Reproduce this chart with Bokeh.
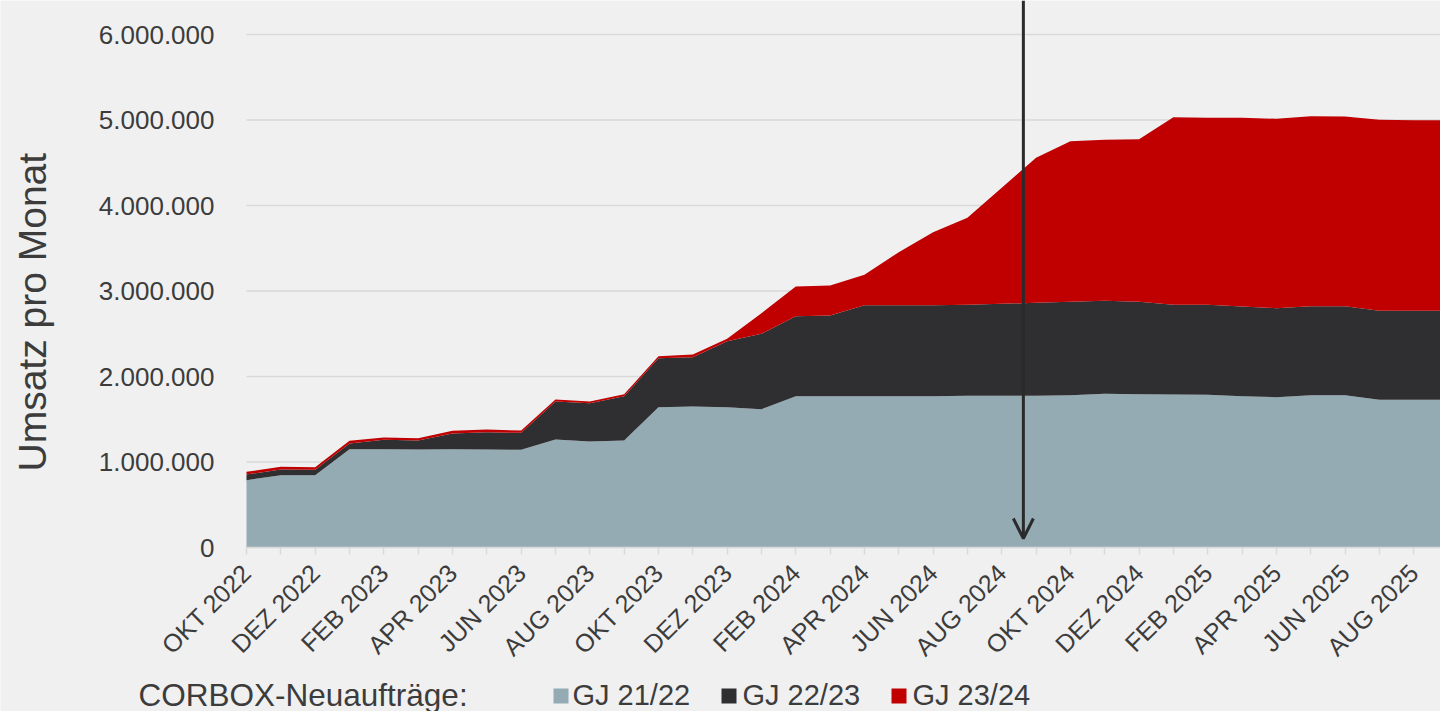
import math
from bokeh.plotting import figure
from bokeh.models import (ColumnDataSource, FixedTicker, Range1d, Arrow, OpenHead,
                          Label, BoxAnnotation)
from bokeh.embed import file_html
from bokeh.resources import INLINE

# ---------------- data ----------------
months = ["OKT 2022", "NOV 2022", "DEZ 2022", "JAN 2023", "FEB 2023", "MÄR 2023",
          "APR 2023", "MAI 2023", "JUN 2023", "JUL 2023", "AUG 2023", "SEP 2023",
          "OKT 2023", "NOV 2023", "DEZ 2023", "JAN 2024", "FEB 2024", "MÄR 2024",
          "APR 2024", "MAI 2024", "JUN 2024", "JUL 2024", "AUG 2024", "SEP 2024",
          "OKT 2024", "NOV 2024", "DEZ 2024", "JAN 2025", "FEB 2025", "MÄR 2025",
          "APR 2025", "MAI 2025", "JUN 2025", "JUL 2025", "AUG 2025", "SEP 2025"]

gj_21_22 = [787000, 846000, 846000, 1150000, 1150000, 1146000, 1150000, 1145000, 1142000,
            1263000, 1240000, 1251000, 1641000, 1649000, 1641000, 1618000, 1770000, 1770000,
            1770000, 1770000, 1770000, 1774000, 1774000, 1774000, 1782000, 1797000, 1793000,
            1790000, 1786000, 1770000, 1758000, 1782000, 1782000, 1727000, 1727000, 1727000]

gj_22_23 = [67000, 66000, 63000, 66000, 110000, 105000, 183000, 202000, 199000,
            445000, 448000, 519000, 573000, 577000, 772000, 881000, 935000, 943000,
            1064000, 1064000, 1064000, 1064000, 1076000, 1088000, 1091000, 1088000, 1080000,
            1048000, 1052000, 1049000, 1041000, 1040000, 1040000, 1041000, 1041000, 1041000]

gj_23_24 = [31000, 32000, 31000, 32000, 27000, 28000, 32000, 32000, 27000,
            23000, 20000, 23000, 24000, 31000, 28000, 242000, 348000, 351000,
            355000, 620000, 854000, 1018000, 1357000, 1696000, 1879000, 1883000, 1903000,
            2195000, 2188000, 2207000, 2215000, 2223000, 2219000, 2234000, 2230000, 2227000]

series_names = ["GJ 21/22", "GJ 22/23", "GJ 23/24"]
legend_title = "CORBOX-Neuaufträge:"
y_title = "Umsatz pro Monat"

y_ticks = [0, 1000000, 2000000, 3000000, 4000000, 5000000, 6000000]
y_tick_labels = ["0", "1.000.000", "2.000.000", "3.000.000", "4.000.000", "5.000.000", "6.000.000"]

# marker arrow (between AUG and SEP 2024)
arrow_x = 22.63
arrow_y_end = 105000

# ---------------- style / layout ----------------
BG = "#f0f0f1"
COLORS = ["#94abb4", "#2f2f31", "#c00000"]
TXT = "#3c3c3c"
GRID = "#d9d9d9"
FONT = "Liberation Sans"
W, H = 1440, 711
# plot area: month 0 at 246px, 34.33 px per month; value 0 at 547px, 85.5 px per million
X0, X1 = -7.166, 34.781
Y0, Y1 = -1918100, 6397700

x = list(range(len(months)))
src = ColumnDataSource(dict(x=x, a=gj_21_22, b=gj_22_23, c=gj_23_24))

p = figure(width=W, height=H, x_range=Range1d(X0, X1), y_range=Range1d(Y0, Y1),
           output_backend="svg", toolbar_location=None, min_border=0,
           background_fill_color=BG, border_fill_color=BG, outline_line_color=None)

# horizontal grid lines (only over the plot area)
p.segment(x0=[0] * len(y_ticks), x1=[X1] * len(y_ticks), y0=y_ticks, y1=y_ticks,
          line_color=GRID, line_width=1.5, level="underlay")
p.xgrid.visible = False
p.ygrid.visible = False

rs = p.varea_stack(["a", "b", "c"], x="x", color=COLORS, source=src)

# x axis, fixed at value 0
p.xaxis.fixed_location = 0
p.xaxis.bounds = (0, len(months) - 1)
p.xaxis.ticker = FixedTicker(ticks=x)
p.xaxis.major_label_overrides = {i: (m if i % 2 == 0 else "") for i, m in enumerate(months)}
p.xaxis.major_label_orientation = math.pi / 4
p.xaxis.axis_line_color = GRID
p.xaxis.axis_line_width = 1.5
p.xaxis.major_tick_line_color = GRID
p.xaxis.major_tick_line_width = 1.5
p.xaxis.major_tick_out = 7
p.xaxis.major_tick_in = 0
p.xaxis.minor_tick_line_color = None
p.xaxis.major_label_standoff = 14
p.xaxis.major_label_text_font = FONT
p.xaxis.major_label_text_font_size = "25px"
p.xaxis.major_label_text_color = TXT

# y axis, fixed at the first month
p.yaxis.fixed_location = 0
p.yaxis.bounds = (0, 6000000)
p.yaxis.ticker = FixedTicker(ticks=y_ticks)
p.yaxis.major_label_overrides = {t: l for t, l in zip(y_ticks, y_tick_labels)}
p.yaxis.axis_line_color = None
p.yaxis.major_tick_line_color = None
p.yaxis.major_tick_out = 0
p.yaxis.major_tick_in = 0
p.yaxis.minor_tick_line_color = None
p.yaxis.major_label_standoff = 32
p.yaxis.major_label_text_font = FONT
p.yaxis.major_label_text_font_size = "26px"
p.yaxis.major_label_text_color = TXT

# y title (screen px from the bottom-left corner)
p.add_layout(Label(x=32, y=240, x_units="screen", y_units="screen", angle=math.pi / 2,
                   text=y_title, text_font=FONT, text_font_size="39px", text_color=TXT,
                   text_align="left", text_baseline="alphabetic"))

p.add_layout(Arrow(x_start=arrow_x, y_start=Y1, x_end=arrow_x, y_end=arrow_y_end,
                   line_color="#2a2a2a", line_width=3,
                   end=OpenHead(size=20, line_color="#2a2a2a", line_width=3)))

# ---------------- legend row (screen px from the bottom-left corner) ----------------
LEG_BASE = 17
SQ_TOP, SQ_BOTTOM = 23, 8
title_x = 138
sq_left = [553, 721, 891]
sq_size = 15
lab_x = [572, 742, 912]

p.add_layout(Label(x=title_x, y=LEG_BASE, x_units="screen", y_units="screen",
                   text=legend_title, text_font=FONT, text_font_size="31.5px",
                   text_color=TXT, text_baseline="alphabetic"))
for sx, lx, name, col in zip(sq_left, lab_x, series_names, COLORS):
    p.add_layout(BoxAnnotation(left=sx, right=sx + sq_size, top=SQ_TOP, bottom=SQ_BOTTOM,
                               left_units="screen", right_units="screen",
                               top_units="screen", bottom_units="screen",
                               fill_color=col, fill_alpha=1, line_color=None))
    p.add_layout(Label(x=lx, y=LEG_BASE, x_units="screen", y_units="screen",
                       text=name, text_font=FONT, text_font_size="29px",
                       text_color=TXT, text_baseline="alphabetic"))

html = file_html(p, INLINE)
html = html.replace("<body>", '<body style="background:%s; overflow:hidden;">' % BG, 1)
open("out.html", "w").write(html)
